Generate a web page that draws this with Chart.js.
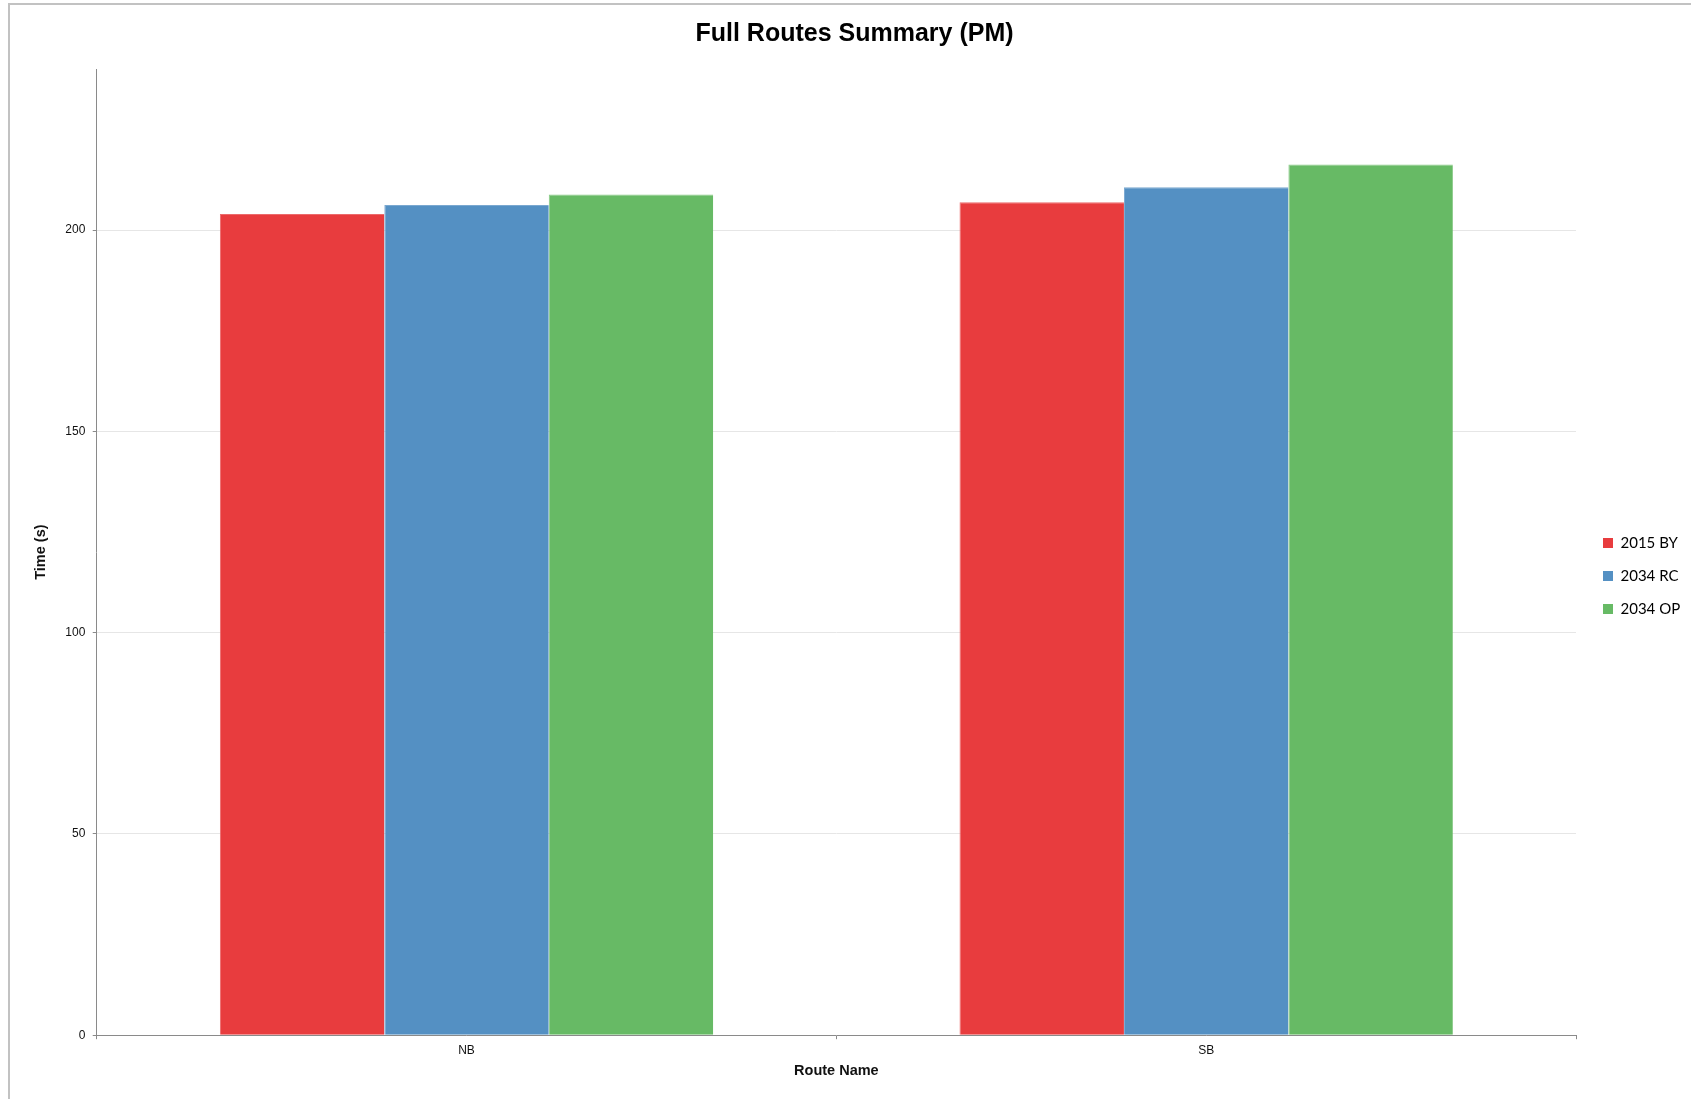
<!DOCTYPE html>
<html>
<head>
<meta charset="utf-8">
<script src="https://cdn.jsdelivr.net/npm/chart.js@4.4.1/dist/chart.umd.min.js"></script>
<style>
    html, body { margin: 0; padding: 0; background: #fff; }
    #wrap { position: relative; width: 1691px; height: 1099px; }
    #frame { position: absolute; left: 8px; top: 3px; right: -10px; bottom: -10px; border-left: 2px solid #c2c2c2; border-top: 2px solid #c2c2c2; pointer-events: none; }
</style>
</head>
<body>
<div id="wrap">
    <canvas id="myChart" width="1691" height="1099"></canvas>
    <div id="frame"></div>
</div>
<script>
var routes = ['NB', 'SB'];
var seriesNames = ['2015 BY', '2034 RC', '2034 OP'];
var by2015 = [204.0, 206.9];
var rc2034 = [206.2, 210.6];
var op2034 = [208.8, 216.3];
var seriesColors = ['#e83c3e', '#5490c3', '#67ba65'];
var edgeColors = ['#ec6a6b', '#7aa8d0', '#87c985'];
var yTicks = [0, 50, 100, 150, 200];
var yMax = 240;

// legend sits a bit off the plot, like the original export
var legendSpacing = {
    id: 'legendSpacing',
    beforeInit: function (chart) {
        var legend = chart.legend;
        var fit = legend.fit;
        legend.fit = function () {
            fit.call(this);
            this.width = 115;
        };
    },
    afterLayout: function (chart) {
        var legend = chart.legend;
        legend.left += 9;
        legend.right += 9;
        legend.top += 36;
        legend.bottom += 36;
    }
};

function createChart() {
    var values = [by2015, rc2034, op2034];
    var datasets = [];
    for (var i = 0; i < seriesNames.length; i++) {
        datasets.push({
            label: seriesNames[i],
            data: values[i],
            backgroundColor: seriesColors[i],
            borderColor: edgeColors[i],
            borderWidth: { top: 1, left: 1, right: 0, bottom: 0 },
            categoryPercentage: 0.667,
            barPercentage: 1.0
        });
    }

    const config = {
        type: 'bar',
        data: {
            labels: routes,
            datasets: datasets
        },
        options: {
            responsive: false,
            animation: false,
            layout: {
                padding: { left: 18, right: 0, top: 0, bottom: 19 }
            },
            plugins: {
                title: {
                    display: true,
                    text: 'Full Routes Summary (PM)',
                    color: '#000',
                    font: { family: 'Liberation Sans, Arial, sans-serif', size: 25, weight: 'bold' },
                    padding: { top: 19, bottom: 20 }
                },
                legend: {
                    position: 'right',
                    labels: {
                        boxWidth: 10,
                        boxHeight: 10,
                        padding: 18,
                        color: '#000',
                        font: { family: 'Lato, sans-serif', size: 15 },
                        generateLabels: function (chart) {
                            return chart.data.datasets.map(function (ds, i) {
                                return {
                                    text: ds.label,
                                    fillStyle: ds.backgroundColor,
                                    strokeStyle: ds.backgroundColor,
                                    lineWidth: 0,
                                    fontColor: '#000',
                                    datasetIndex: i
                                };
                            });
                        }
                    }
                },
                tooltip: { enabled: false }
            },
            scales: {
                x: {
                    offset: true,
                    grid: {
                        offset: true,
                        drawOnChartArea: false,
                        tickLength: 4,
                        tickColor: '#8a8a8a'
                    },
                    border: { color: '#8a8a8a' },
                    ticks: {
                        color: '#111',
                        padding: 4,
                        font: { family: 'Liberation Sans, Arial, sans-serif', size: 12 }
                    },
                    title: {
                        display: true,
                        text: 'Route Name',
                        color: '#111',
                        padding: { top: 1, bottom: 0 },
                        font: { family: 'Liberation Sans, Arial, sans-serif', size: 14.5, weight: 'bold' }
                    }
                },
                y: {
                    min: 0,
                    max: yMax,
                    afterBuildTicks: function (axis) {
                        axis.ticks = yTicks.map(function (v) { return { value: v }; });
                    },
                    grid: {
                        color: '#e6e6e6',
                        tickLength: 4,
                        tickColor: '#8a8a8a'
                    },
                    border: { color: '#8a8a8a' },
                    ticks: {
                        color: '#111',
                        padding: 7.4,
                        font: { family: 'Liberation Sans, Arial, sans-serif', size: 12 }
                    },
                    title: {
                        display: true,
                        text: 'Time (s)',
                        color: '#111',
                        padding: { top: 14.3, bottom: 8.2 },
                        font: { family: 'Liberation Sans, Arial, sans-serif', size: 14.5, weight: 'bold' }
                    }
                }
            }
        },
        plugins: [legendSpacing]
    };

    const ctx = document.getElementById('myChart');
    new Chart(ctx, config);
}

createChart();
</script>
</body>
</html>
